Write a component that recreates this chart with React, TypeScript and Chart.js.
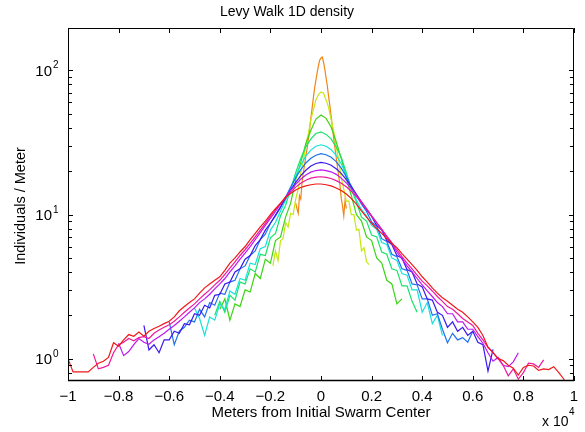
import React, { useEffect, useRef } from "react";
import { Chart, registerables } from "chart.js";

Chart.register(...registerables);

// ---------- text ----------
const TITLE = "Levy Walk 1D density";
const X_LABEL = "Meters from Initial Swarm Center";
const Y_LABEL = "Individuals / Meter";
const X_TICKS = [-10000, -8000, -6000, -4000, -2000, 0, 2000, 4000, 6000, 8000, 10000];
const X_TICK_LABELS = ["\u22121", "\u22120.8", "\u22120.6", "\u22120.4", "\u22120.2", "0", "0.2", "0.4", "0.6", "0.8", "1"];
const Y_DECADES = [1, 10, 100];
const Y_DECADE_EXP = ["0", "1", "2"];
const X_EXP_BASE = "x 10";
const X_EXP = "4";

// ---------- data: density (individuals / meter) per histogram bin ----------
// each series: first bin centre (m), bin width (m), values
const t1Start = -1000;
const t1Bin = 50;
const t1 = [12.0, 11.0, 10.2, 13.5, 12.8, 16.5, 19.5, 22.0, 25.5, 28.5, 33.5, 39.0, 47.0, 55.0, 65.0, 76.0, 86.0, 97.0, 108, 118, 122, 124, 114, 102, 89, 78, 66, 57, 48, 41, 34, 29, 25, 21.5, 18.5, 16.0, 13.0, 11.5, 9.8, 12.5, 11.0];

const t2Start = -1900;
const t2Bin = 100;
const t2 = [4.4, 5.6, 4.8, 6.6, 6.8, 8.8, 8.2, 10.2, 10.0, 12.8, 15.0, 19.5, 23.5, 30.5, 36.5, 45.5, 53.5, 62.5, 68.0, 71.0, 69.5, 62.5, 55.5, 45.5, 38.0, 29.5, 24.0, 18.0, 15.0, 12.4, 12.4, 10.0, 10.0, 7.8, 7.9, 5.6, 5.9, 4.7, 4.5];

const t3Start = -4000;
const t3Bin = 200;
const t3 = [2.2, 2.6, 1.85, 2.4, 2.3, 3.0, 2.9, 3.9, 3.6, 4.9, 4.6, 6.6, 7.0, 9.6, 12.0, 17.5, 23.0, 31.0, 38.5, 46.0, 49.0, 46.5, 40.5, 32.0, 24.5, 18.0, 13.5, 10.0, 9.0, 7.0, 6.6, 5.0, 4.6, 3.5, 3.3, 2.4, 2.6];

const t4Start = -4200;
const t4Bin = 200;
const t4 = [2.0, 2.5, 2.1, 2.75, 2.55, 3.4, 3.3, 4.2, 4.0, 5.3, 5.2, 6.9, 7.4, 9.8, 11.6, 15.0, 19.5, 24.5, 29.5, 33.5, 36.5, 37.5, 36.0, 33.5, 29.5, 25.0, 19.5, 15.0, 12.2, 9.6, 9.0, 7.2, 7.0, 5.5, 5.3, 4.2, 4.1, 3.2, 3.2, 2.5, 2.1];

const t5Start = -5000;
const t5Bin = 200;
const t5 = [2.25, 1.9, 1.45, 1.95, 1.85, 2.4, 2.2, 2.95, 2.8, 3.6, 3.5, 4.6, 4.5, 5.8, 6.0, 7.8, 8.8, 10.6, 12.6, 15.0, 18.5, 22.0, 25.5, 28.0, 29.8, 30.5, 29.8, 28.2, 25.8, 22.5, 18.8, 15.2, 12.6, 10.8, 9.8, 8.4, 7.9, 6.4, 6.2, 5.0, 4.8, 3.9, 3.8, 3.0, 3.0, 2.1, 2.45, 1.75, 2.0, 1.45];

const t6Start = -6000;
const t6Bin = 200;
const t6 = [1.8, 1.25, 1.55, 1.65, 1.85, 1.8, 2.2, 1.95, 2.45, 2.35, 2.85, 2.8, 3.4, 3.5, 4.2, 4.4, 5.2, 5.6, 6.7, 7.3, 8.7, 9.8, 11.2, 13.2, 15.5, 18.0, 20.5, 22.8, 24.6, 25.8, 26.5, 26.0, 25.0, 23.3, 21.0, 18.3, 15.8, 13.6, 11.8, 10.5, 8.9, 8.3, 6.8, 6.5, 5.3, 5.1, 4.2, 4.1, 3.3, 3.25, 2.6, 2.6, 2.0, 2.05, 1.6, 1.29, 1.5, 1.35, 1.4, 1.3, 1.55];

const t7Start = -7000;
const t7Bin = 200;
const t7 = [1.7, 1.15, 1.25, 1.1, 1.35, 1.35, 1.55, 1.5, 1.75, 1.72, 2.05, 2.0, 2.35, 2.25, 2.75, 2.8, 3.3, 3.4, 4.0, 4.2, 4.9, 5.2, 6.1, 6.7, 7.8, 8.7, 9.9, 11.3, 13.0, 14.8, 16.7, 18.6, 20.3, 21.7, 22.6, 23.0, 22.7, 22.0, 20.8, 19.3, 17.5, 15.6, 13.8, 12.2, 10.8, 9.7, 8.4, 7.8, 6.6, 6.2, 5.2, 5.0, 4.15, 4.0, 3.3, 3.15, 2.6, 2.55, 2.1, 2.0, 1.65, 1.8, 1.55, 1.65, 1.45, 1.55, 1.3, 1.25, 0.82, 1.16];

const t8Start = -8000;
const t8Bin = 200;
const t8 = [1.28, 1.05, 1.12, 1.25, 1.38, 1.3, 1.26, 1.35, 1.42, 1.5, 1.6, 1.7, 1.82, 1.95, 2.1, 2.25, 2.45, 2.6, 2.8, 3.05, 3.3, 3.6, 4.0, 4.4, 4.9, 5.4, 6.0, 6.7, 7.5, 8.4, 9.4, 10.5, 11.8, 13.2, 14.7, 16.2, 17.6, 18.8, 19.7, 20.2, 20.4, 20.2, 19.8, 19.0, 17.9, 16.6, 15.2, 13.7, 12.3, 11.0, 9.8, 8.8, 7.9, 7.0, 6.3, 5.5, 4.9, 4.4, 4.0, 3.6, 3.25, 2.95, 2.7, 2.45, 2.3, 2.05, 2.05, 1.8, 1.8, 1.6, 1.6, 1.42, 1.28, 1.1, 0.96, 1.02, 0.9, 0.88, 0.95, 1.1];

const t9Start = -9000;
const t9Bin = 200;
const t9 = [1.08, 0.85, 0.87, 0.9, 1.1, 1.25, 1.3, 1.38, 1.33, 1.4, 1.42, 1.38, 1.5, 1.58, 1.65, 1.72, 1.82, 1.95, 2.1, 2.25, 2.4, 2.6, 2.8, 3.0, 3.25, 3.5, 3.85, 4.25, 4.7, 5.2, 5.7, 6.3, 7.0, 7.8, 8.7, 9.7, 10.8, 11.9, 13.1, 14.3, 15.5, 16.5, 17.3, 17.9, 18.2, 18.3, 18.1, 17.8, 17.2, 16.5, 15.6, 14.5, 13.3, 12.1, 10.9, 9.8, 8.8, 7.9, 7.1, 6.4, 5.7, 5.1, 4.6, 4.2, 3.8, 3.45, 3.2, 2.95, 2.7, 2.5, 2.3, 2.2, 2.05, 1.9, 1.8, 1.7, 1.5, 1.35, 1.2, 1.1, 1.0, 0.9, 0.76, 0.85, 0.72, 0.8, 0.93, 0.92, 0.87, 0.98];

const t10Start = -10000;
const t10Bin = 200;
const t10 = [1.0, 0.81, 0.81, 0.81, 0.81, 0.87, 0.93, 0.96, 1.02, 1.29, 1.22, 1.35, 1.47, 1.43, 1.53, 1.43, 1.55, 1.62, 1.68, 1.75, 1.82, 1.95, 2.15, 2.3, 2.45, 2.6, 2.85, 3.1, 3.3, 3.5, 3.7, 4.1, 4.6, 5.0, 5.5, 6.0, 6.7, 7.4, 8.2, 9.0, 10.0, 11.0, 12.0, 13.2, 14.0, 14.8, 15.4, 15.8, 16.1, 16.3, 16.3, 16.1, 15.8, 15.3, 14.7, 13.9, 12.9, 11.8, 10.6, 9.6, 8.7, 8.0, 7.4, 6.8, 6.3, 5.9, 5.35, 4.9, 4.5, 4.1, 3.7, 3.4, 3.1, 2.85, 2.65, 2.5, 2.35, 2.2, 2.1, 1.95, 1.8, 1.65, 1.45, 1.2, 1.1, 1.0, 0.97, 0.9, 0.86, 0.77, 0.87, 0.9, 0.89, 0.83, 0.85, 0.84, 0.88, 0.8, 0.72, 0.62];

const COLORS = ["#F08616", "#C4E810", "#3CD414", "#16E46A", "#16E2DC", "#1E72F0", "#3A18EE", "#BC18F0", "#F0189C", "#F01818"];

const Y_MIN = 0.708;
const Y_MAX = 197;

const FONT = '"Liberation Sans", Arial, Helvetica, sans-serif';

const axesPlugin = {
  id: "matlabAxes",
  afterDraw(chart: any) {
    const { ctx, chartArea: a, scales } = chart;
    const xs = scales.x;
    const ys = scales.y;
    ctx.save();
    ctx.strokeStyle = "#000";
    ctx.fillStyle = "#000";
    ctx.lineWidth = 1;
    ctx.beginPath();
    ctx.rect(a.left + 0.5, a.top + 0.5, a.right - a.left - 1, a.bottom - a.top - 1);
    ctx.stroke();
    ctx.lineWidth = 1.4;
    ctx.beginPath();
    ctx.moveTo(a.left, a.bottom - 0.5);
    ctx.lineTo(a.right, a.bottom - 0.5);
    ctx.stroke();
    ctx.lineWidth = 1;
    ctx.beginPath();
    X_TICKS.forEach((v) => {
      const px = Math.round(xs.getPixelForValue(v)) + 0.5;
      ctx.moveTo(px, a.bottom);
      ctx.lineTo(px, a.bottom - 5);
      ctx.moveTo(px, a.top);
      ctx.lineTo(px, a.top + 5);
    });
    Y_DECADES.forEach((d) => {
      for (let k = 1; k <= 9; k++) {
        const v = d * k;
        if (v < Y_MIN || v > Y_MAX) continue;
        const py = Math.round(ys.getPixelForValue(v)) + 0.5;
        const len = k === 1 ? 5 : 4;
        ctx.moveTo(a.left, py);
        ctx.lineTo(a.left + len, py);
        ctx.moveTo(a.right, py);
        ctx.lineTo(a.right - len, py);
      }
    });
    [0.8, 0.9].forEach((v) => {
      if (v < Y_MIN) return;
      const py = Math.round(ys.getPixelForValue(v)) + 0.5;
      ctx.moveTo(a.left, py);
      ctx.lineTo(a.left + 4, py);
      ctx.moveTo(a.right, py);
      ctx.lineTo(a.right - 4, py);
    });
    ctx.stroke();

    ctx.font = `15px ${FONT}`;
    ctx.textAlign = "center";
    ctx.textBaseline = "alphabetic";
    X_TICKS.forEach((v, i) => {
      ctx.fillText(X_TICK_LABELS[i], xs.getPixelForValue(v), 401);
    });
    Y_DECADES.forEach((d, i) => {
      const py = ys.getPixelForValue(d);
      ctx.font = `15px ${FONT}`;
      ctx.textAlign = "right";
      ctx.fillText("10", 52, py + 5.5);
      ctx.font = `10px ${FONT}`;
      ctx.textAlign = "left";
      ctx.fillText(Y_DECADE_EXP[i], 53, py - 2);
    });
    ctx.font = `14px ${FONT}`;
    ctx.textAlign = "center";
    ctx.fillText(TITLE, 287, 16);
    ctx.font = `15px ${FONT}`;
    ctx.fillText(X_LABEL, 321, 417);
    ctx.font = `14px ${FONT}`;
    ctx.textAlign = "left";
    ctx.fillText(X_EXP_BASE, 542, 426);
    ctx.font = `10px ${FONT}`;
    ctx.fillText(X_EXP, 569, 415);
    ctx.save();
    ctx.translate(25, 206);
    ctx.rotate(-Math.PI / 2);
    ctx.font = `14.5px ${FONT}`;
    ctx.textAlign = "center";
    ctx.fillText(Y_LABEL, 0, 0);
    ctx.restore();
    ctx.restore();
  },
};

export default function App() {
  const ref = useRef<HTMLCanvasElement>(null);
  useEffect(() => {
    if (!ref.current) return;
    const series = [
      { start: t1Start, bin: t1Bin, values: t1 },
      { start: t2Start, bin: t2Bin, values: t2 },
      { start: t3Start, bin: t3Bin, values: t3 },
      { start: t4Start, bin: t4Bin, values: t4 },
      { start: t5Start, bin: t5Bin, values: t5 },
      { start: t6Start, bin: t6Bin, values: t6 },
      { start: t7Start, bin: t7Bin, values: t7 },
      { start: t8Start, bin: t8Bin, values: t8 },
      { start: t9Start, bin: t9Bin, values: t9 },
      { start: t10Start, bin: t10Bin, values: t10 },
    ];
    const datasets = series.map((s, i) => ({
      label: `t${i + 1}`,
      data: s.values.map((v, j) => ({ x: s.start + j * s.bin, y: v })),
      borderColor: COLORS[i],
      backgroundColor: COLORS[i],
      borderWidth: 1.2,
      pointRadius: 0,
      fill: false,
      tension: 0,
      order: series.length - 1 - i,
    }));
    const chart = new Chart(ref.current, {
      type: "line",
      data: { datasets },
      options: {
        animation: false,
        responsive: false,
        devicePixelRatio: 1,
        layout: { padding: { left: 68, right: 11, top: 28, bottom: 51 } },
        plugins: { legend: { display: false }, title: { display: false }, tooltip: { enabled: false } },
        scales: {
          x: { type: "linear", min: -10000, max: 10000, display: false },
          y: { type: "logarithmic", min: Y_MIN, max: Y_MAX, display: false },
        },
      },
      plugins: [axesPlugin],
    });
    return () => chart.destroy();
  }, []);
  return (
    <div style={{ position: "absolute", left: 0, top: 0, width: 585, height: 432, background: "#fff" }}>
      <canvas ref={ref} width={585} height={432} />
    </div>
  );
}
